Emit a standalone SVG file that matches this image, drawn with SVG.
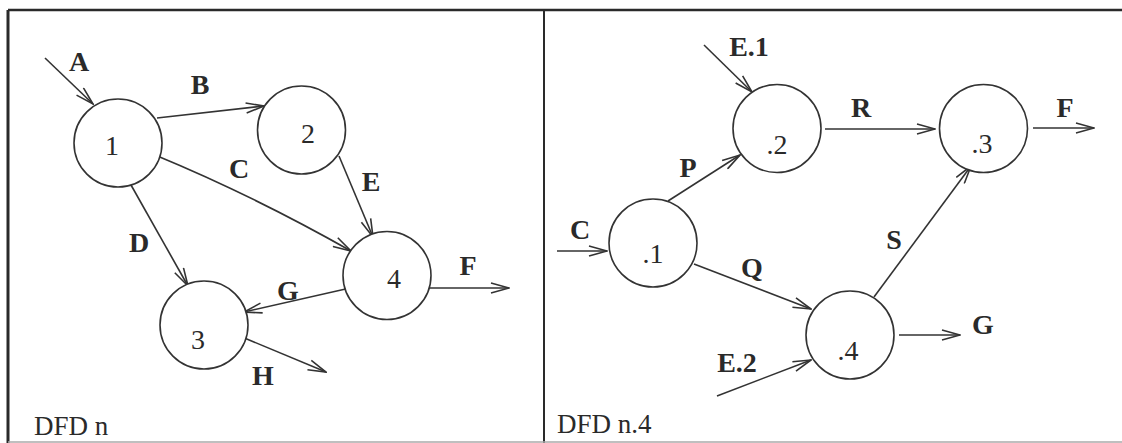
<svg xmlns="http://www.w3.org/2000/svg" width="1122" height="443" viewBox="0 0 1122 443">
<style>
.bg{fill:#ffffff}
.frame{stroke:#2a2a2a;fill:none}
.node{fill:#ffffff;stroke:#333333;stroke-width:1.6}
.num{font-family:"Liberation Serif","Times New Roman",serif;font-size:28px;fill:#2a2a2a;text-anchor:middle}
.lbl{font-family:"Liberation Serif","Times New Roman",serif;font-size:28px;font-weight:bold;fill:#2a2a2a;text-anchor:middle}
.cap{font-family:"Liberation Serif","Times New Roman",serif;font-size:27px;fill:#2a2a2a}
.flow{stroke:#333333;stroke-width:1.6;fill:none;marker-end:url(#arr)}
</style>
<defs>
<marker id="arr" viewBox="0 0 20 12" refX="19" refY="6" markerWidth="20" markerHeight="12" markerUnits="userSpaceOnUse" orient="auto">
<path d="M1,1 L19,6 L1,11" fill="none" stroke="#333333" stroke-width="1.6"/>
</marker>
</defs>
<rect class="bg" x="0" y="0" width="1122" height="443"/>
<g id="frame">
<line class="frame" x1="8" y1="10" x2="1122" y2="10" stroke-width="2.5"/>
<line class="frame" x1="8" y1="10" x2="8" y2="443" stroke-width="3"/>
<line class="frame" x1="544" y1="10" x2="544" y2="443" stroke-width="2"/>
<line x1="8" y1="442" x2="1122" y2="442" stroke="#aaaaaa" stroke-width="1.5"/>
</g>
<g id="connectors">
<line class="flow" x1="45" y1="58" x2="93" y2="104"/>
<line class="flow" x1="157" y1="118" x2="264" y2="106"/>
<path class="flow" d="M155,155 Q252,195 351,251"/>
<line class="flow" x1="131" y1="185" x2="188" y2="286"/>
<line class="flow" x1="339" y1="156" x2="373" y2="237"/>
<line class="flow" x1="423" y1="288" x2="509" y2="288"/>
<line class="flow" x1="350" y1="288" x2="244" y2="312"/>
<line class="flow" x1="242" y1="337" x2="326" y2="372"/>
<line class="flow" x1="704" y1="45" x2="752" y2="92"/>
<line class="flow" x1="668" y1="201" x2="740" y2="155"/>
<line class="flow" x1="825" y1="129" x2="935" y2="129"/>
<line class="flow" x1="1033" y1="128" x2="1094" y2="128"/>
<line class="flow" x1="557" y1="251" x2="607" y2="251"/>
<line class="flow" x1="694" y1="264" x2="811" y2="309"/>
<line class="flow" x1="874" y1="297" x2="971" y2="166"/>
<line class="flow" x1="899" y1="335" x2="960" y2="335"/>
<line class="flow" x1="717" y1="396" x2="811" y2="360"/>
</g>
<g id="n1"><circle class="node" cx="118" cy="143" r="44"/><text class="num" x="112" y="155">1</text></g>
<g id="n2"><circle class="node" cx="301.5" cy="130" r="44"/><text class="num" x="308" y="143">2</text></g>
<g id="n3"><circle class="node" cx="204" cy="325" r="44"/><text class="num" x="198" y="349">3</text></g>
<g id="n4"><circle class="node" cx="387" cy="275.5" r="44"/><text class="num" x="394" y="288">4</text></g>
<g id="r1"><circle class="node" cx="653" cy="243" r="44"/><text class="num" x="653" y="263">.1</text></g>
<g id="r2"><circle class="node" cx="777" cy="128.5" r="44"/><text class="num" x="777" y="154">.2</text></g>
<g id="r3"><circle class="node" cx="983.5" cy="128.5" r="44"/><text class="num" x="982" y="153">.3</text></g>
<g id="r4"><circle class="node" cx="850" cy="335" r="44"/><text class="num" x="848" y="360">.4</text></g>
<g id="labels">
<text class="lbl" x="79" y="71">A</text>
<text class="lbl" x="200" y="94">B</text>
<text class="lbl" x="239" y="178">C</text>
<text class="lbl" x="139" y="252">D</text>
<text class="lbl" x="371" y="191">E</text>
<text class="lbl" x="468" y="275">F</text>
<text class="lbl" x="288" y="300">G</text>
<text class="lbl" x="263" y="385">H</text>
<text class="lbl" x="749" y="56">E.1</text>
<text class="lbl" x="688" y="177">P</text>
<text class="lbl" x="861" y="117">R</text>
<text class="lbl" x="1065" y="117">F</text>
<text class="lbl" x="580" y="239">C</text>
<text class="lbl" x="752" y="277">Q</text>
<text class="lbl" x="894" y="249">S</text>
<text class="lbl" x="983" y="334">G</text>
<text class="lbl" x="737" y="372">E.2</text>
<text class="cap" x="34" y="435">DFD n</text>
<text class="cap" x="557" y="433">DFD n.4</text>
</g>
</svg>
